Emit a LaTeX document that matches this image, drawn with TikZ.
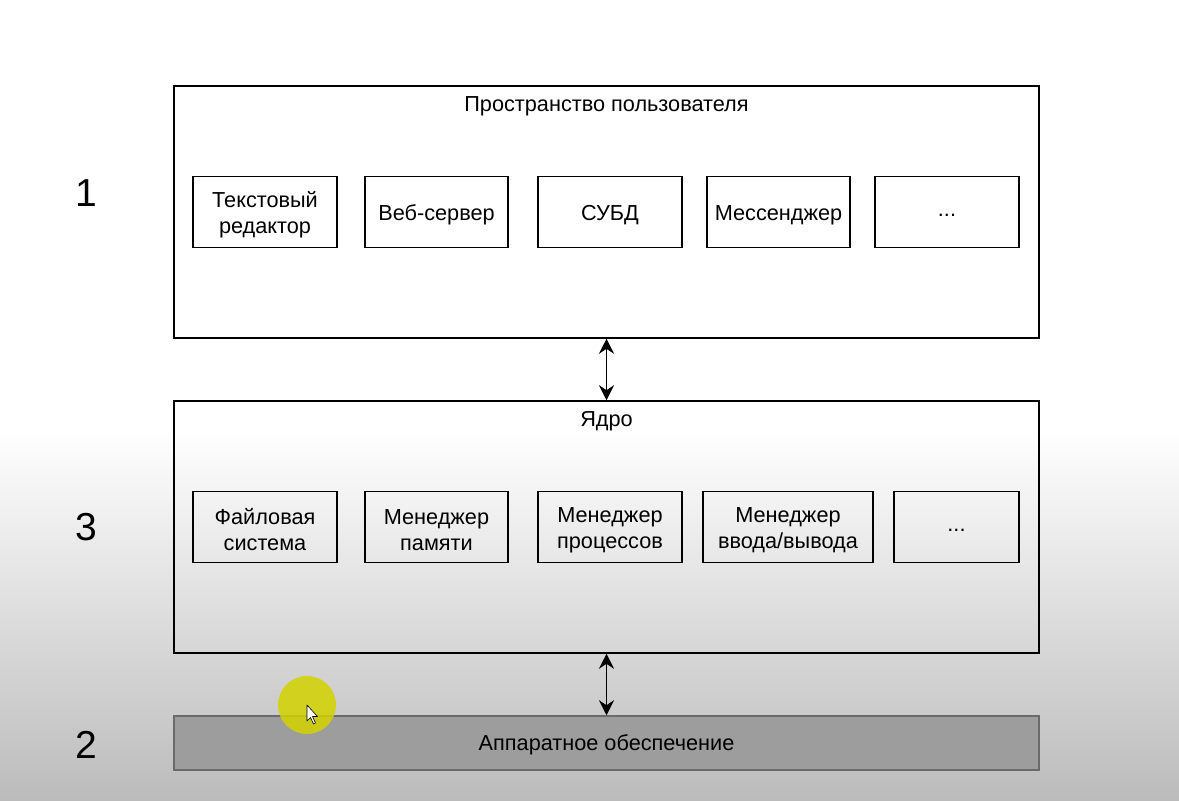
\documentclass[tikz,border=0pt]{standalone}
\usepackage{fontspec}
\setmainfont{Liberation Sans}
\usetikzlibrary{arrows.meta}
\definecolor{bggray}{HTML}{BBBBBB}
\definecolor{hwfill}{HTML}{9D9D9D}
\definecolor{hwdraw}{HTML}{6A6A6A}
\definecolor{hilite}{HTML}{D2D200}
\begin{document}
\begin{tikzpicture}[x=1pt,y=-1pt,
  container/.style={draw=black, line width=1.5pt, minimum width=865pt, minimum height=252pt, inner sep=0pt},
  ttl/.style={font=\fontsize{21.7}{26}\selectfont, anchor=center},
  lbl/.style={align=center, inner sep=0pt, font=\fontsize{21.7}{26}\selectfont, yshift=-3pt},
  comp/.style={draw=black, line width=1.8pt, minimum height=71pt, inner sep=0pt},
  lvl/.style={font=\fontsize{39}{44}\selectfont},
  link/.style={line width=1.5pt, {Stealth[length=15pt,width=15pt,inset=5pt]}-{Stealth[length=15pt,width=15pt,inset=5pt]}},
  hw/.style={draw=hwdraw, fill=hwfill, line width=1.5pt, minimum width=865pt, minimum height=54pt, inner sep=0pt}
]
\useasboundingbox (0,0) rectangle (1179,801);
\fill[white] (0,0) rectangle (1179,432);
\shade[top color=white, bottom color=bggray] (0,430) rectangle (1179,801);

% levels
\node[lvl] (n1) at (86,193) {1};
\node[lvl] (n3) at (86,527) {3};
\node[lvl] (n2) at (86,745) {2};

% user space
\node[container] (user) at (606.5,212) {};
\node[ttl] (usert) at (606.5,106) {Пространство пользователя};
\node[comp, minimum width=144pt, label={[lbl]center:Текстовый\\редактор}] (u1) at (265,212) {};
\node[comp, minimum width=143pt, label={[lbl]center:Веб-сервер}] (u2) at (436.5,212) {};
\node[comp, minimum width=144pt, label={[lbl]center:СУБД}] (u3) at (610,212) {};
\node[comp, minimum width=143pt, label={[lbl]center:Мессенджер}] (u4) at (778.5,212) {};
\node[comp, minimum width=144pt, label={[lbl]center:...}] (u5) at (947,212) {};

% kernel
\node[container] (kern) at (606.5,527) {};
\node[ttl] (kernt) at (606.5,421) {Ядро};
\node[comp, minimum width=144pt, label={[lbl]center:Файловая\\система}] (k1) at (265,527) {};
\node[comp, minimum width=143pt, label={[lbl]center:Менеджер\\памяти}] (k2) at (436.5,527) {};
\node[comp, minimum width=144pt, label={[lbl]center:Менеджер\\процессов}] (k3) at (610,527) {};
\node[comp, minimum width=170pt, label={[lbl]center:Менеджер\\ввода/вывода}] (k4) at (788,527) {};
\node[comp, minimum width=125pt, label={[lbl]center:...}] (k5) at (956.5,527) {};

% hardware
\node[hw] (hwbox) at (606.5,743) {};
\node[ttl] (hwt) at (606.5,745) {Аппаратное обеспечение};

% links
\draw[link] (user.south) -- (kern.north);
\draw[link] (kern.south) -- (hwbox.north);

% cursor highlight
\fill[hilite, opacity=0.85] (307,705) circle (29);
\draw[black, fill=white, line width=0.6pt, line join=round] (307,705) -- (307,721) -- (310.5,717.5) -- (313.5,724) -- (315.5,723) -- (312.5,716.5) -- (317.5,716.5) -- cycle;
\end{tikzpicture}
\end{document}
